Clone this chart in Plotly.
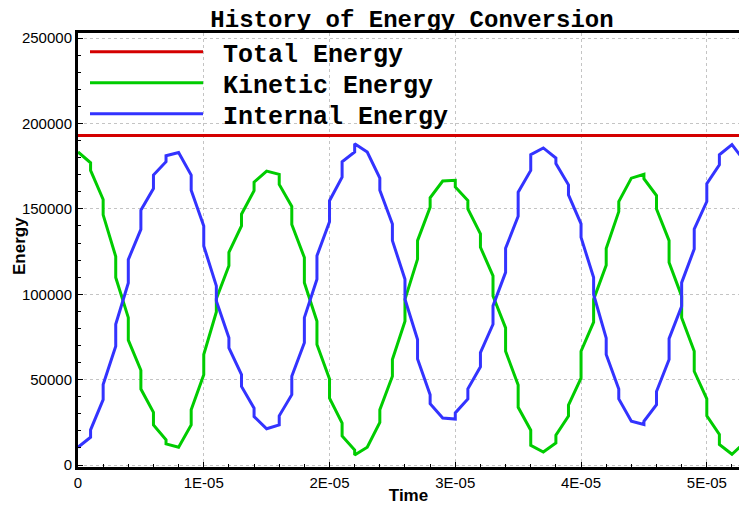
import plotly.graph_objects as go

# time samples in microseconds (repeated values = two samples at same time)
time_us = [0, 1, 1, 2, 2, 3, 3, 4, 4, 5, 5, 6, 6, 7, 7, 8,
           9, 9, 10, 10, 11, 11, 12, 12, 13, 13, 14, 14, 15,
           16, 16, 17, 17, 18, 18, 19, 19, 20, 20, 21, 21, 22, 22, 23,
           24, 24, 25, 25, 26, 26, 27, 27, 28, 28, 29,
           30, 30, 31, 31, 32, 32, 33, 33, 34, 34, 35, 35, 36, 36, 37,
           38, 38, 39, 39, 40, 40, 41, 41, 42, 42, 43, 43, 44,
           45, 45, 46, 46, 47, 47, 48, 48, 49, 49, 50, 50, 51, 51, 52, 53]

kinetic = [183300, 177000, 172500, 155500, 146500, 122100, 109800, 86300, 73100,
           55500, 44500, 30800, 23500, 14700, 12400, 10400,
           23500, 32400, 52900, 64700, 89600, 97400, 116700, 124500, 140000, 146900,
           160700, 165600, 172100,
           170200, 164300, 151400, 140800, 121500, 106800, 84200, 70600, 50400, 39200,
           24500, 17000, 8800, 5900, 10400,
           24900, 32400, 52000, 61800, 84200, 97000, 120600, 131400, 151000, 156500, 166300,
           166700, 162800, 154900, 150000, 135400, 127500, 110800, 99000, 80300, 66600,
           46900, 33800, 20400, 11500, 7600,
           12900, 17500, 28600, 35100, 50800, 66600, 83700, 97000, 117000, 126800,
           148400, 154300, 168000,
           170200, 167700, 157800, 149900, 131400, 118600, 98900, 86200, 66600, 54900,
           38700, 28800, 17900, 12000, 6300, 13100]

internal = [10400, 16300, 20600, 38300, 47100, 69600, 82400, 106600, 120300,
            138000, 149200, 161900, 169800, 177600, 181100, 183000,
            169800, 160900, 140000, 128300, 104900, 96100, 74500, 68600, 52900, 46000,
            33300, 28400, 21200,
            23500, 28800, 41200, 52000, 71600, 86300, 108800, 122500, 142500, 154800,
            168600, 177600, 183300, 188200, 183300,
            168000, 160900, 141200, 131400, 108800, 97100, 73500, 62100, 41200, 35900, 27500,
            26900, 30500, 38700, 44600, 57500, 65800, 82400, 93200, 112800, 126900,
            145700, 159800, 172500, 181700, 185700,
            179800, 176500, 164100, 158200, 141200, 133300, 109800, 99900, 74300, 64700,
            44500, 38700, 25600,
            23700, 25600, 35300, 43100, 61800, 74000, 93000, 106800, 126500, 138200,
            154300, 164700, 175800, 181700, 187600, 178000]

total_time_us = [0, 53]
total = [193000, 193000]

series_names = ["Total Energy", "Kinetic Energy", "Internal Energy"]

x_tickvals = [0, 1e-5, 2e-5, 3e-5, 4e-5, 5e-5]
x_ticktext = ["0", "1E-05", "2E-05", "3E-05", "4E-05", "5E-05"]
y_tickvals = [0, 50000, 100000, 150000, 200000, 250000]
y_ticktext = ["0", "50000", "100000", "150000", "200000", "250000"]

t = [v * 1e-6 for v in time_us]
tt = [v * 1e-6 for v in total_time_us]

mono = "Courier New, Liberation Mono, monospace"
sans = "Liberation Sans, Arial, sans-serif"
NB = "\u00a0"

fig = go.Figure()
fig.add_trace(go.Scatter(x=tt, y=total, mode="lines", name=NB + series_names[0],
                         line=dict(color="#d40000", width=3), legend="legend"))
fig.add_trace(go.Scatter(x=t, y=kinetic, mode="lines", name=NB + series_names[1],
                         line=dict(color="#00cc00", width=3), legend="legend2"))
fig.add_trace(go.Scatter(x=t, y=internal, mode="lines", name=NB + series_names[2],
                         line=dict(color="#3333ff", width=3), legend="legend3"))

plot_left, plot_w = 78, 661
plot_top, plot_h = 33, 434


def leg(center_px):
    top = center_px - 24
    return dict(x=(85 - plot_left) / plot_w, xanchor="left",
                y=1 - (top - plot_top) / plot_h, yanchor="top",
                bgcolor="rgba(0,0,0,0)", borderwidth=0, itemwidth=113,
                font=dict(family=mono, size=25, color="black", weight="bold"))


fig.update_layout(
    width=739, height=505,
    margin=dict(l=plot_left, r=0, t=plot_top, b=38, autoexpand=False),
    paper_bgcolor="white", plot_bgcolor="white",
    title=dict(text="History of Energy Conversion", x=412 / 739, xanchor="center",
               y=1 - 19 / 505, yanchor="middle", yref="container",
               font=dict(family=mono, size=24, color="black", weight="bold")),
    showlegend=True,
    legend=leg(53), legend2=leg(84), legend3=leg(115),
    annotations=[dict(text="<b>Energy</b>", textangle=-90, xref="paper", yref="paper",
                      x=(19 - plot_left) / plot_w, y=1 - (246 - plot_top) / plot_h,
                      xanchor="center", yanchor="middle", showarrow=False,
                      font=dict(family=sans, size=17, color="black"))],
)

fig.update_xaxes(
    range=[0, 5.256e-5], tickvals=x_tickvals, ticktext=x_ticktext,
    showline=True, linecolor="black", linewidth=3, mirror=True,
    ticks="inside", ticklen=5, tickcolor="black",
    minor=dict(dtick=2e-6, ticks="inside", ticklen=3, tickcolor="black", showgrid=False),
    showgrid=True, gridcolor="#c4c4c4", griddash="3px,3px", gridwidth=1,
    zeroline=False, automargin=False,
    tickfont=dict(family=sans, size=15, color="black"),
    title=dict(text="Time", font=dict(family=sans, size=17, color="black", weight="bold"),
               standoff=2),
)
fig.update_yaxes(
    range=[-1170, 253000], tickvals=y_tickvals, ticktext=y_ticktext,
    showline=True, linecolor="black", linewidth=3,
    ticks="inside", ticklen=5, tickcolor="black",
    minor=dict(dtick=10000, ticks="inside", ticklen=3, tickcolor="black", showgrid=False),
    showgrid=True, gridcolor="#c4c4c4", griddash="3px,3px", gridwidth=1,
    zeroline=False, automargin=False,
    tickfont=dict(family=sans, size=15, color="black"),
)

fig.write_html("out.html")
